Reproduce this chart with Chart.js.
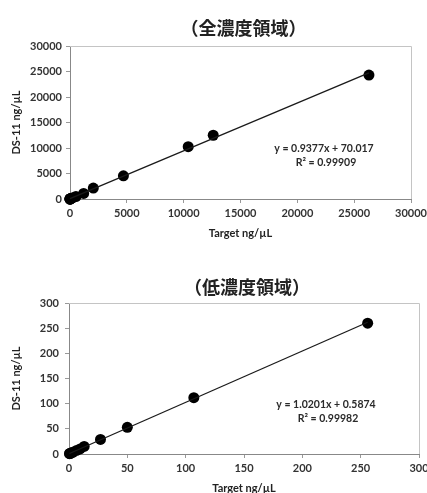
<!DOCTYPE html>
<html>
<head>
<meta charset="utf-8">
<script src="https://cdn.jsdelivr.net/npm/chart.js@4.4.1/dist/chart.umd.min.js"></script>
<style>
  html, body { margin: 0; padding: 0; background: #fff; width: 427px; height: 493px; overflow: hidden; }
  .box { position: absolute; left: 0; width: 440px; }
</style>
</head>
<body>
<div class="box" style="top:0;height:248px"><canvas id="chartAll" width="440" height="248"></canvas></div>
<div class="box" style="top:248px;height:247px"><canvas id="chartLow" width="440" height="247"></canvas></div>
<script>
// 全濃度領域
const targetAll = [0.8, 1.6, 3.2, 6.5, 13, 27, 50, 107, 256, 520, 1200, 2050, 4700, 10400, 12600, 26300];
const measuredAll = [1, 2, 3.5, 7, 14, 29, 53, 112, 260, 480, 1100, 2150, 4550, 10250, 12500, 24300];
const fitAll = { slope: 0.9377, intercept: 70.017, r2: '0.99909' };
const ticksAll = [0, 5000, 10000, 15000, 20000, 25000, 30000];

// 低濃度領域
const targetLow = [0.4, 0.8, 1.6, 3.2, 6.5, 9.5, 13, 27, 50, 107, 256];
const measuredLow = [0.6, 1, 2, 3.5, 7, 10, 15, 29, 53, 112, 260];
const fitLow = { slope: 1.0201, intercept: 0.5874, r2: '0.99982' };
const ticksLow = [0, 50, 100, 150, 200, 250, 300];

const titleAll = '（全濃度領域）';
const titleLow = '（低濃度領域）';
const xTitle = 'Target ng/µL';
const yTitle = 'DS-11 ng/µL';

const FONT = 'Lato, "Liberation Sans", sans-serif';

// タイトルと近似式を描くプラグイン
const textPlugin = {
    id: 'fitText',
    afterDraw(chart, args, opts) {
        const ctx = chart.ctx;
        const area = chart.chartArea;
        ctx.save();
        ctx.fillStyle = '#222';
        ctx.textAlign = 'center';
        ctx.textBaseline = 'middle';
        ctx.font = 'bold 18px "Noto Sans CJK JP", sans-serif';
        ctx.fillText(opts.title, (area.left + area.right) / 2 + 3, opts.titleY);
        ctx.font = 'bold 10.5px ' + FONT;
        ctx.fillStyle = '#2a2a2a';
        ctx.fillText(opts.lines[0], opts.x, opts.y);
        ctx.fillText(opts.lines[1], opts.x + 2, opts.y + 14);
        ctx.restore();
    },
    beforeDatasetsDraw(chart) {
        const ctx = chart.ctx;
        const a = chart.chartArea;
        ctx.save();
        ctx.strokeStyle = '#c4c4c4';
        ctx.lineWidth = 1;
        ctx.beginPath();
        ctx.moveTo(a.left, a.top + 0.5);
        ctx.lineTo(a.right + 0.5, a.top + 0.5);
        ctx.lineTo(a.right + 0.5, a.bottom);
        ctx.stroke();
        ctx.restore();
    }
};

function makeChart(id, xs, ys, fit, ticks, title, cfg) {
    const points = xs.map((x, i) => ({ x: x, y: ys[i] }));
    const xMin = Math.min(...xs);
    const xMax = Math.max(...xs);
    const trend = [
        { x: xMin, y: fit.slope * xMin + fit.intercept },
        { x: xMax, y: fit.slope * xMax + fit.intercept }
    ];
    const top = ticks[ticks.length - 1];
    const step = ticks[1] - ticks[0];
    const tickFont = { family: FONT, size: 11, weight: 'bold' };

    return new Chart(document.getElementById(id), {
        type: 'scatter',
        data: {
            datasets: [{
                type: 'line',
                data: trend,
                borderColor: '#1a1a1a',
                borderWidth: 1.3,
                pointRadius: 0,
                clip: false
            }, {
                data: points,
                backgroundColor: '#000',
                borderColor: '#000',
                pointRadius: 5.5,
                pointBorderWidth: 0,
                clip: false
            }]
        },
        plugins: [textPlugin],
        options: {
            responsive: false,
            animation: false,
            layout: { padding: { top: cfg.top, left: 0, right: cfg.right, bottom: 0 } },
            plugins: {
                legend: { display: false },
                tooltip: { enabled: false },
                fitText: {
                    title: title,
                    titleY: cfg.titleY,
                    x: cfg.eqX,
                    y: cfg.eqY,
                    lines: [
                        'y = ' + fit.slope + 'x + ' + fit.intercept,
                        'R² = ' + fit.r2
                    ]
                }
            },
            scales: {
                x: {
                    type: 'linear',
                    min: 0,
                    max: top,
                    afterFit: s => { s.height = cfg.xHeight; },
                    ticks: {
                        stepSize: step,
                        maxRotation: 0,
                        padding: 4,
                        color: '#333',
                        font: tickFont,
                        callback: v => String(v)
                    },
                    grid: { drawOnChartArea: false, tickLength: 4, color: '#999' },
                    border: { color: '#888' },
                    title: {
                        display: true,
                        text: xTitle,
                        color: '#222',
                        font: tickFont,
                        padding: { top: 0, bottom: cfg.xTitlePad }
                    }
                },
                y: {
                    type: 'linear',
                    min: 0,
                    max: top,
                    afterFit: s => { s.width = cfg.yWidth; },
                    ticks: {
                        stepSize: step,
                        padding: cfg.yTickPad,
                        color: '#333',
                        font: tickFont,
                        callback: v => String(v)
                    },
                    grid: { drawOnChartArea: false, tickLength: 4, color: '#999' },
                    border: { color: '#888' },
                    title: {
                        display: true,
                        text: yTitle,
                        color: '#222',
                        font: tickFont,
                        padding: { top: 10, bottom: 0 }
                    }
                }
            }
        }
    });
}

document.addEventListener('DOMContentLoaded', () => {
    makeChart('chartAll', targetAll, measuredAll, fitAll, ticksAll, titleAll, {
        top: 46, right: 29, xHeight: 49, yWidth: 70, yTickPad: 4, xTitlePad: 8,
        titleY: 28, eqX: 324, eqY: 149
    });
    makeChart('chartLow', targetLow, measuredLow, fitLow, ticksLow, titleLow, {
        top: 55, right: 21, xHeight: 41, yWidth: 69, yTickPad: 6, xTitlePad: 0,
        titleY: 39, eqX: 326, eqY: 157
    });
});
</script>
</body>
</html>
